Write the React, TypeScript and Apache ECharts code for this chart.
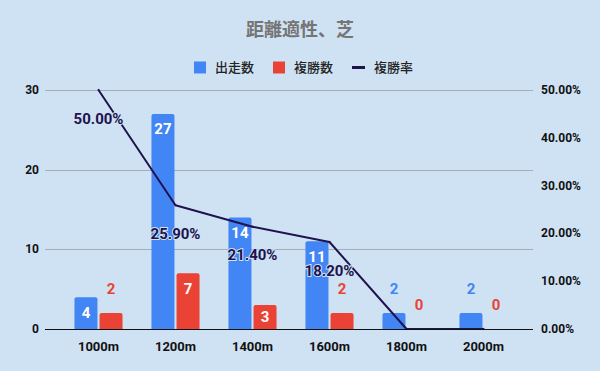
import React, { useEffect, useRef } from "react";
import * as echarts from "echarts";

const categories = ["1000m", "1200m", "1400m", "1600m", "1800m", "2000m"];
const starts = [4, 27, 14, 11, 2, 2];
const places = [2, 7, 3, 2, 0, 0];
const placeRates = [50.0, 25.9, 21.4, 18.2, 0, 0];
const leftMax = 30;
const leftInterval = 10;
const rightMax = 50;
const rightInterval = 10;

const BLUE = "#4285f4";
const RED = "#ea4335";
const LINE = "#20124d";
const BG = "#cfe2f3";
const FONT = 'Roboto, "Noto Sans CJK JP", sans-serif';

function barLabel(v: number, color: string) {
  if (v >= 5) return { show: true, position: "insideTop", distance: 8, color: "#fff" };
  if (v >= 3) return { show: true, position: "inside", color: "#fff" };
  return { show: true, position: "top", distance: 17, color };
}

export default function App() {
  const ref = useRef<HTMLDivElement>(null);
  useEffect(() => {
    document.body.style.margin = "0";
    document.body.style.overflow = "hidden";
    if (!ref.current) return;
    const chart = echarts.init(ref.current, null, { renderer: "svg" });
    const labelBase = { fontFamily: FONT, fontWeight: "bold", fontSize: 15 };
    const legendCommon = {
      top: 56,
      itemWidth: 12,
      itemHeight: 12,
      icon: "rect",
      textStyle: { fontFamily: FONT, fontSize: 13, color: "#222", fontWeight: 500, padding: [0, 0, 0, 4] },
    };
    chart.setOption({
      animation: false,
      backgroundColor: BG,
      textStyle: { fontFamily: FONT },
      title: {
        text: "距離適性、芝",
        left: "center",
        top: 15,
        textStyle: { fontFamily: FONT, fontSize: 18, fontWeight: "bold", color: "#757575" },
      },
      legend: [
        { ...legendCommon, left: 189, data: ["出走数"] },
        { ...legendCommon, left: 268, data: ["複勝数"] },
        { ...legendCommon, left: 347, itemWidth: 13, itemHeight: 3, data: ["複勝率"] },
      ],
      grid: { left: 60, right: 78, top: 90, bottom: 42 },
      xAxis: {
        type: "category",
        data: categories,
        axisLine: { show: false },
        axisTick: { show: false },
        axisLabel: { fontFamily: FONT, fontSize: 13, fontWeight: "bold", color: "#111", margin: 11 },
      },
      yAxis: [
        {
          type: "value",
          min: 0,
          max: leftMax,
          interval: leftInterval,
          splitLine: { show: false },
          axisLine: { show: false },
          axisTick: { show: false },
          axisLabel: { fontFamily: FONT, fontSize: 12, fontWeight: "bold", color: "#111", margin: 21 },
        },
        {
          type: "value",
          min: 0,
          max: rightMax,
          interval: rightInterval,
          splitLine: { show: false },
          axisLine: { show: false },
          axisTick: { show: false },
          axisLabel: {
            fontFamily: FONT,
            fontSize: 12,
            fontWeight: "bold",
            color: "#111",
            margin: 19,
            formatter: (v: number) => v.toFixed(2) + "%",
          },
        },
      ],
      series: [
        {
          name: "出走数",
          type: "bar",
          barWidth: 23,
          barGap: "9%",
          itemStyle: { color: BLUE, borderRadius: [2, 2, 0, 0] },
          data: starts.map((v) => ({ value: v, label: { ...labelBase, ...barLabel(v, BLUE) } })),
          z: 2,
        },
        {
          name: "複勝数",
          type: "bar",
          barWidth: 23,
          itemStyle: { color: RED, borderRadius: [2, 2, 0, 0] },
          data: places.map((v) => ({ value: v, label: { ...labelBase, ...barLabel(v, RED) } })),
          z: 2,
        },
        {
          name: "複勝率",
          type: "line",
          yAxisIndex: 1,
          symbol: "circle",
          symbolSize: 2,
          showSymbol: true,
          lineStyle: { color: LINE, width: 2 },
          itemStyle: { color: LINE },
          z: 5,
          data: placeRates.map((v) => ({
            value: v,
            label: {
              show: v > 0,
              position: "bottom",
              distance: 20,
              ...labelBase,
              color: LINE,
              textBorderColor: BG,
              textBorderWidth: 2,
              formatter: (p: any) => Number(p.value).toFixed(2) + "%",
            },
          })),
        },
      ],
    });

    const ticks: number[] = [];
    for (let v = 0; v <= leftMax; v += leftInterval) ticks.push(v);
    const graphic = ticks.map((v) => {
      const y = Math.round(chart.convertToPixel({ yAxisIndex: 0 }, v) as number) + 0.5;
      return {
        type: "line",
        z: v === 0 ? 10 : 0,
        silent: true,
        shape: { x1: 45, y1: y, x2: 533, y2: y },
        style: { stroke: v === 0 ? "#111" : "#a3adb9", lineWidth: 1 },
      };
    });
    chart.setOption({ graphic });

    return () => chart.dispose();
  }, []);
  return <div ref={ref} style={{ width: 600, height: 371 }} />;
}
